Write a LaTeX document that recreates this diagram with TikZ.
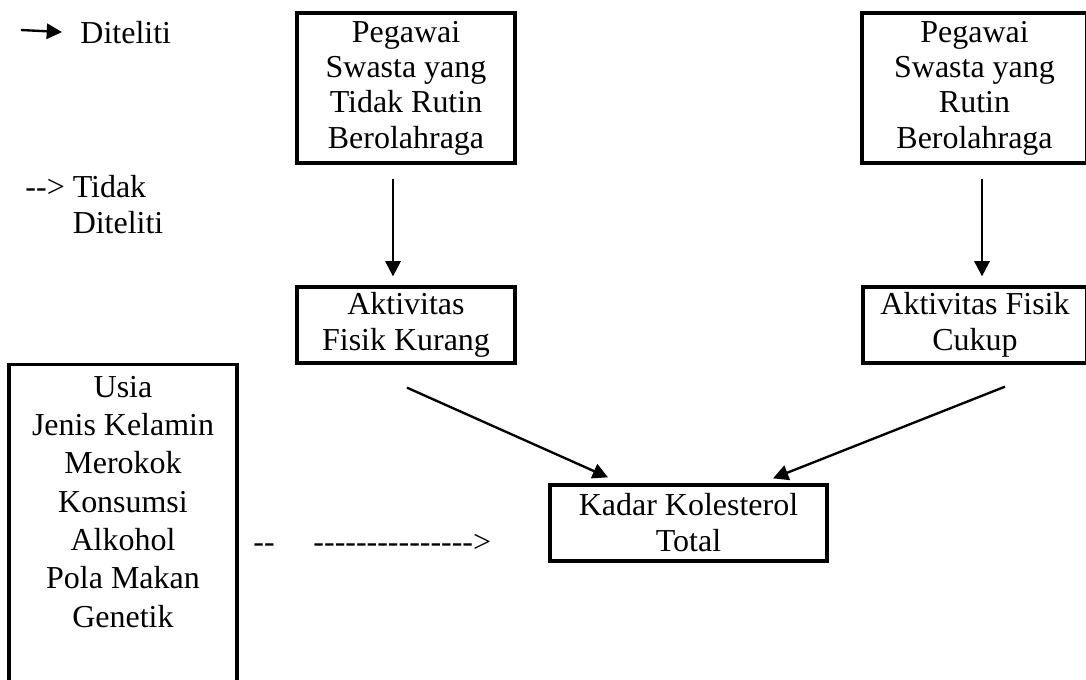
\documentclass[tikz,border=0pt]{standalone}
\usepackage{fontspec}
\setmainfont{Liberation Serif}
\usetikzlibrary{arrows.meta,calc}
\newcommand\pxu{0.4255pt}
\newcommand\hy{-\kern0pt}
\newcommand\garis[1]{\foreach\i in {1,...,#1}{\hy}}
\begin{document}
\begin{tikzpicture}[x=\pxu,y=-\pxu,
  kotak/.style={draw,line width=1.4pt,align=center,inner sep=0pt},
  panah/.style={-{Triangle[length=6.5pt,width=6.5pt]},line width=1pt},
  empat/.style={font=\fontsize{13.6}{15}\selectfont},
  dua/.style={font=\fontsize{13.6}{15.3}\selectfont},
  teks/.style={inner sep=0pt,font=\fontsize{13.6}{15.3}\selectfont}]
\useasboundingbox (0,0) rectangle (1086,679);
\clip (0,0) rectangle (1086,679);
% keterangan
\coordinate (ket) at (21,30);
\node[teks,anchor=base west] (diteliti) at (80,43) {Diteliti};
\draw[panah] (ket) -- ([xshift=-18*\pxu]diteliti.west);
\node[teks,anchor=base west,align=left] (tidak) at (25,233)
  {\hy\hy> Tidak\\\hphantom{\hy\hy>}\ Diteliti};
% kotak
\node[kotak,empat,minimum width=218*\pxu,minimum height=150*\pxu] (peg1) at (406,88)
  {Pegawai\\Swasta yang\\Tidak Rutin\\Berolahraga};
\node[kotak,empat,minimum width=225*\pxu,minimum height=150*\pxu] (peg2) at (974.5,88)
  {Pegawai\\Swasta yang\\Rutin\\Berolahraga};
\node[kotak,dua,minimum width=218*\pxu,minimum height=76*\pxu] (akt1) at (406,325)
  {Aktivitas\\Fisik Kurang};
\node[kotak,dua,minimum width=224*\pxu,minimum height=76*\pxu] (akt2) at (975,325)
  {Aktivitas Fisik\\Cukup};
\node[kotak,dua,minimum width=277*\pxu,minimum height=76*\pxu] (kadar) at (688.5,523)
  {Kadar Kolesterol\\Total};
\node[draw,line width=1.4pt,minimum width=228*\pxu,minimum height=400*\pxu,anchor=north] (faktor) at (123,363) {};
\node[teks,anchor=base,align=center,font=\fontsize{13.6}{16.3}\selectfont] (isi) at (123,627)
  {Usia\\Jenis Kelamin\\Merokok\\Konsumsi\\Alkohol\\Pola Makan\\Genetik};
% garis putus
\node[teks,anchor=base west] (putus1) at (253,552) {\garis{2}};
\node[teks,anchor=base west] (putus2) at (313,552) {\garis{15}>};
% panah
\draw[panah] ($(peg1.south)+(-13,14)$) -- ($(akt1.north)+(-13,-9)$);
\draw[panah] ($(peg2.south)+(7.5,14)$) -- ($(akt2.north)+(7,-9)$);
\draw[panah] ($(akt1.south)+(1,23)$) -- ($(kadar.north)+(-80.5,-6)$);
\draw[panah] ($(akt2.south)+(30,22)$) -- ($(kadar.north)+(84.5,-5)$);
\end{tikzpicture}
\end{document}
